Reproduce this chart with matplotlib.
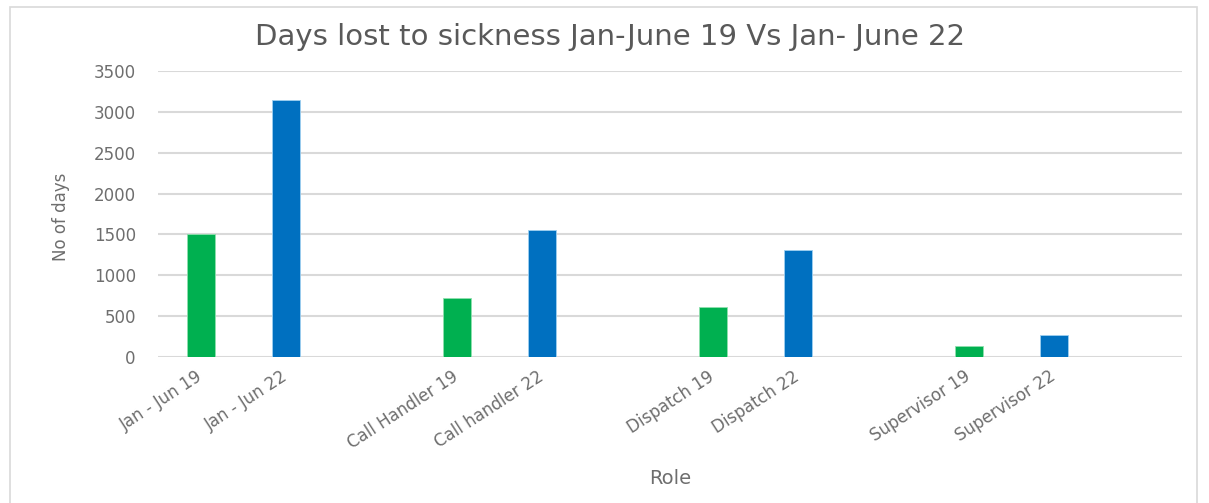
import matplotlib
matplotlib.use("Agg")
import matplotlib.pyplot as plt
from matplotlib.patches import Rectangle

# Categories (empty strings act as spacers between role groups)
categories = ["Jan - Jun 19", "Jan - Jun 22", "",
              "Call Handler 19", "Call handler 22", "",
              "Dispatch 19", "Dispatch 22", "",
              "Supervisor 19", "Supervisor 22", ""]
days_lost = [1500, 3150, None,
             720, 1550, None,
             610, 1310, None,
             130, 270, None]
bar_colors = ["#00B050", "#0070C0", None,
              "#00B050", "#0070C0", None,
              "#00B050", "#0070C0", None,
              "#00B050", "#0070C0", None]
y_ticks = [0, 500, 1000, 1500, 2000, 2500, 3000, 3500]

plt.rcParams["font.family"] = ["DejaVu Sans"]
title_color = "#595959"
tick_color = "#6e6e6e"

W, H = 1209, 503
fig = plt.figure(figsize=(W / 100, H / 100), dpi=100)
ax = fig.add_axes([158 / W, 1 - 357 / H, (1182 - 158) / W, (357 - 71) / H])

positions = list(range(len(categories)))
for x, v, c in zip(positions, days_lost, bar_colors):
    if v is None:
        continue
    ax.bar(x, v, width=0.33, color=c,
           edgecolor="#9fd0f0" if c == "#0070C0" else "#8fe0ae",
           linewidth=0.6, zorder=3)

ax.set_xlim(-0.5, len(categories) - 0.5)
ax.set_ylim(0, 3500)
ax.set_yticks(y_ticks)
ax.set_yticklabels([str(t) for t in y_ticks], fontsize=12, color=tick_color)
ax.yaxis.grid(True, color="#d9d9d9", linewidth=1.5, zorder=0)
ax.set_axisbelow(True)
for s in ax.spines.values():
    s.set_visible(False)
ax.tick_params(axis="both", length=0)
ax.tick_params(axis="y", pad=16)

ax.set_xticks(positions)
ax.set_xticklabels(categories, rotation=33, ha="right", va="center",
                   rotation_mode="anchor", fontsize=12, color=tick_color)
ax.tick_params(axis="x", pad=13)

ax.set_ylabel("No of days", fontsize=12, color=tick_color, va="center")
ax.yaxis.set_label_coords(-(158 - 61) / (1182 - 158), 0.49)
ax.set_xlabel("Role", fontsize=14, color=tick_color)
ax.xaxis.set_label_coords((670 - 158) / (1182 - 158), -(478 - 357) / (357 - 71))
ax.xaxis.label.set_va("center")

fig.text(610 / W, 1 - 37 / H, "Days lost to sickness Jan-June 19 Vs Jan- June 22",
         ha="center", va="center", fontsize=21, color=title_color)

# Light chart border
fig.add_artist(Rectangle((10 / W, -0.01), (1197 - 10) / W, 1 - 7 / H + 0.01,
                         transform=fig.transFigure, fill=False,
                         edgecolor="#d9d9d9", linewidth=1.2))

fig.savefig("out.png", dpi=100)
